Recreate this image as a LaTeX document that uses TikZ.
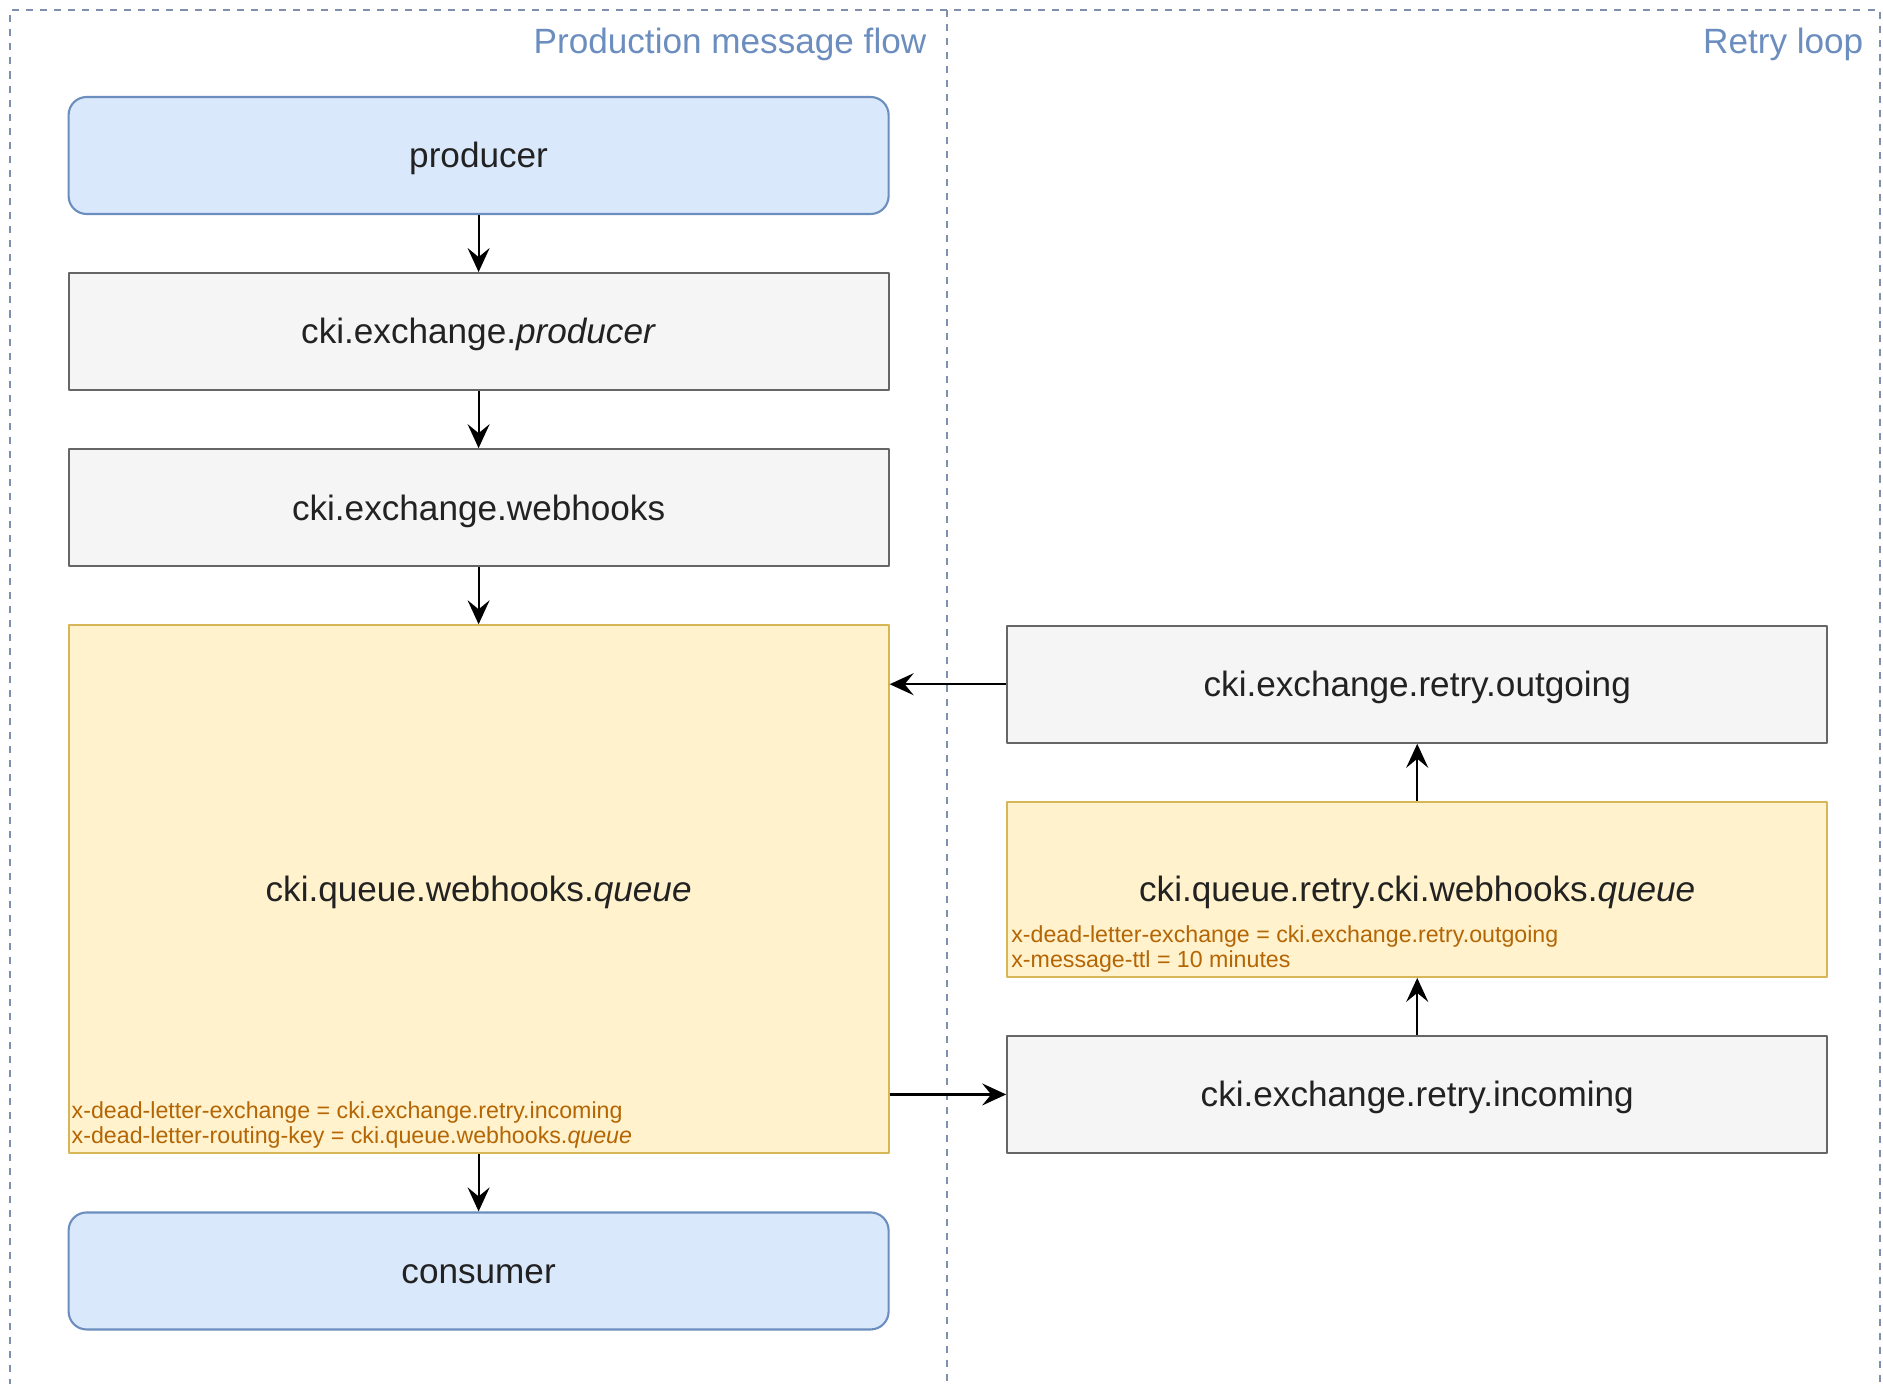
\documentclass[tikz,border=0pt]{standalone}
\usepackage{fontspec}
\setmainfont{Liberation Sans}
\usetikzlibrary{positioning,arrows.meta}
\definecolor{bluefill}{HTML}{DAE8FC}
\definecolor{blueline}{HTML}{6C8EBF}
\definecolor{grayfill}{HTML}{F5F5F5}
\definecolor{grayline}{HTML}{666666}
\definecolor{yellowfill}{HTML}{FFF2CC}
\definecolor{yellowline}{HTML}{D6B656}
\definecolor{notetext}{HTML}{B46504}
\definecolor{laneline}{HTML}{7F8FAE}
\definecolor{maintext}{HTML}{222222}

\begin{document}
\begin{tikzpicture}[line join=round,
  every node/.style={font=\fontsize{10}{12}\selectfont,text=maintext},
  box/.style={draw=grayline,fill=grayfill,line width=.6pt,minimum width=8.2cm,minimum height=1.17cm,inner sep=0pt,text height=.7em,text depth=0pt},
  ep/.style={box,draw=blueline,fill=bluefill,rounded corners=1.8mm},
  queue/.style={box,draw=yellowline,fill=yellowfill},
  note/.style={font=\fontsize{6.6}{7.1}\selectfont,text=notetext,align=left,inner sep=0pt,anchor=south west},
  lanetitle/.style={text=blueline,anchor=east,inner sep=0pt},
  lane/.style={draw=laneline,line width=.6pt,dash pattern=on 2pt off 2pt},
  >={Stealth[length=2.4mm,width=2.2mm,inset=.9mm]}]
  \clip (0,0) rectangle (18.83,-13.83);
  \draw[lane] (0.1,-14) -- (0.1,-0.1) -- (18.8,-0.1) -- (18.8,-14);
  \draw[lane] (9.47,-0.1) -- (9.47,-14);
  \node[lanetitle] (flowtitle) at (9.27,-0.44) {Production message flow};
  \node[lanetitle] (retrytitle) at (18.64,-0.44) {Retry loop};

  \node[ep] (producer) at (4.786,-1.555) {producer};
  \node[box,below=0.57cm of producer] (exprod) {cki.exchange.\textit{producer}};
  \node[box,below=0.57cm of exprod] (exhooks) {cki.exchange.webhooks};
  \node[queue,minimum height=5.28cm,below=0.57cm of exhooks] (hookq) {cki.queue.webhooks.\textit{queue}};
  \node[ep,below=0.57cm of hookq] (consumer) {consumer};
  \node[queue,minimum height=1.75cm,right=1.165cm of hookq] (retryq) {cki.queue.retry.cki.webhooks.\textit{queue}};
  \node[box,above=0.57cm of retryq] (outgoing) {cki.exchange.retry.outgoing};
  \node[box,below=0.57cm of retryq] (incoming) {cki.exchange.retry.incoming};
  \node[note] (hookqnote) at ([shift={(.035,.05)}]hookq.south west)
    {x-dead-letter-exchange = cki.exchange.retry.incoming\\x-dead-letter-routing-key = cki.queue.webhooks.\textit{queue}};
  \node[note] (retryqnote) at ([shift={(.045,.05)}]retryq.south west)
    {x-dead-letter-exchange = cki.exchange.retry.outgoing\\x-message-ttl = 10 minutes};

  \draw[->,line width=.6pt] (producer) -- (exprod);
  \draw[->,line width=.6pt] (exprod) -- (exhooks);
  \draw[->,line width=.6pt] (exhooks) -- (hookq);
  \draw[->,line width=.6pt] (hookq) -- (consumer);
  \draw[->,line width=.6pt] (hookq.east |- incoming.west) -- (incoming.west);
  \draw[->,line width=.6pt] (incoming) -- (retryq);
  \draw[->,line width=.6pt] (retryq) -- (outgoing);
  \draw[->,line width=.6pt] (outgoing.west) -- (outgoing.west -| hookq.east);
\end{tikzpicture}
\end{document}
